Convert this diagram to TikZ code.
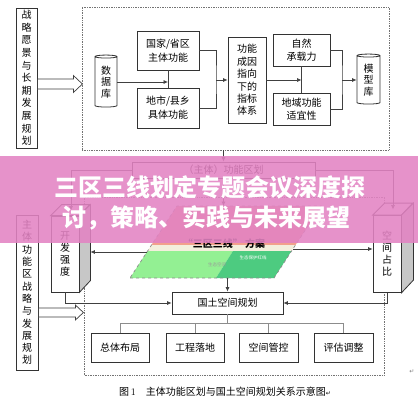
\documentclass[tikz,border=0pt]{standalone}
\usepackage{fontspec}
\usetikzlibrary{shapes.geometric,arrows.meta}
\newfontfamily\cjk{Noto Sans CJK SC}
\newfontfamily\symfont{DejaVu Sans}
\definecolor{banner}{HTML}{E383C3}
\definecolor{salmon}{HTML}{F2A08C}
\definecolor{cream}{HTML}{F3EFDC}
\definecolor{lgreen}{HTML}{93F093}
\definecolor{dgreen}{HTML}{4DCB80}

\begin{document}
\begin{tikzpicture}[x=1pt,y=-1pt,
  box/.style={draw=black!80,fill=white,line width=0.8pt,inner sep=1pt,align=center,font=\cjk\fontsize{10}{13}\selectfont},
  cyl/.style={cylinder,shape border rotate=90,aspect=0.3,draw=black!80,fill=white,line width=0.8pt,inner sep=0pt,align=center,font=\cjk\fontsize{10}{11.5}\selectfont},
  link/.style={draw=black!75,line width=0.7pt},
  arr/.style={link,-{Latex[length=4.5pt,width=4pt]}},
  tree/.style={draw=black!45,line width=0.7pt},
  dotframe/.style={draw=black!55,densely dotted,line width=0.7pt},
  hollow/.style={draw=black!75,fill=white,line width=0.7pt},
  sideface/.style={draw=black!80,fill=black!22,line width=0.8pt},
  topface/.style={draw=black!80,fill=white,line width=0.8pt}]

  \useasboundingbox (0,0) rectangle (418,400);
  \fill[white] (0,0) rectangle (418,400);

  %top block
  \node[dotframe,minimum width=307,minimum height=143] (top) at (235.5,78.5) {};
  \node[box,minimum width=21,minimum height=140,font=\cjk\fontsize{10}{12.6}\selectfont] (yj) at (26.5,78) {战\\略\\愿\\景\\与\\长\\期\\发\\展\\规\\划};
  \draw[hollow] ([yshift=-1pt]yj.east) -- ++(36,0) -- ++(0,-3.5) -- ++(9,8.5) -- ++(-9,8.5) -- ++(0,-3.5) -- ++(-36,0) -- cycle;

  \node[cyl,minimum width=22,minimum height=52] (sjk) at (106,82) {数\\据\\库};
  \node[box,minimum width=62,minimum height=39,font=\cjk\fontsize{10}{14}\selectfont] (gj) at (168,50.5) {国家/省区\\主体功能};
  \node[box,minimum width=62,minimum height=40,font=\cjk\fontsize{10}{14}\selectfont] (ds) at (168,108) {地市/县乡\\具体功能};
  \node[box,minimum width=38,minimum height=86,font=\cjk\fontsize{10}{12.4}\selectfont] (zb) at (247,80) {功能\\成因\\指向\\下的\\指标\\体系};
  \node[box,minimum width=57,minimum height=32] (zr) at (301.5,50) {自然\\承载力};
  \node[box,minimum width=57,minimum height=32] (dy) at (301.5,109) {地域功能\\适宜性};
  \node[cyl,minimum width=23,minimum height=50] (mxk) at (368.5,80) {模\\型\\库};

  \draw[link] (gj.south) -- (ds.north);
  \draw[arr] (sjk.east) -- (sjk.east -| gj.south);
  \coordinate (m1) at (216,80);
  \draw[link] (gj.east) -| (m1) |- (ds.east);
  \draw[arr] (m1) -- (m1 -| zb.west);
  \draw[link] (zr.south) -- (dy.north);
  \draw[arr] (zb.east) -- (zb.east -| zr.south);
  \coordinate (m3) at (342,80);
  \draw[link] (zr.east) -| (m3) |- (dy.east);
  \draw[arr] (m3) -- (m3 -| mxk.west);

  %lower block
  \node[dotframe,minimum width=300,minimum height=178] (low) at (234.5,286) {};
  \node[box,minimum width=183,minimum height=16] (gh) at (223.5,170) {（主体）功能区划};
  \draw[arr] (top.south -| gh.north) -- (gh.north);

  \node[box,minimum width=22,minimum height=155,font=\cjk\fontsize{10}{12.3}\selectfont] (zl) at (27,292.5) {主\\体\\功\\能\\区\\战\\略\\与\\发\\展\\规\\划};
  \draw[hollow] ([yshift=-15.5pt]zl.east) -- ++(37,0) -- ++(0,-3) -- ++(8,7.5) -- ++(-8,7.5) -- ++(0,-3) -- ++(-37,0) -- cycle;

  % 3d boxes
  \node[box,minimum width=28,minimum height=76,font=\cjk\fontsize{10}{12}\selectfont] (kf) at (65,254) {开\\发\\强\\度};
  \draw[topface] (kf.north west) -- ++(11,-11) -- ++(28,0) -- (kf.north east) -- cycle;
  \draw[sideface] (kf.north east) -- ++(11,-11) -- ++(0,76) -- (kf.south east) -- cycle;
  \coordinate (kfs) at ([xshift=11pt]kf.east);
  \coordinate (kft) at (71,210.5);

  \node[box,minimum width=28,minimum height=77,font=\cjk\fontsize{10}{12}\selectfont] (kj) at (387,254) {空\\间\\占\\比};
  \draw[topface] (kj.north west) -- ++(12,-12) -- ++(28,0) -- (kj.north east) -- cycle;
  \draw[sideface] (kj.north east) -- ++(12,-12) -- ++(0,77) -- (kj.south east) -- cycle;
  \coordinate (kjt) at (393,209.5);

  \draw[arr] (gh.west) -| (kft);
  \draw[arr] (gh.east) -| (kjt);

  % parallelogram
  \fill[salmon] (177,206) -- (321,206) -- (295.5,245) -- (151.5,245) -- cycle;
  \fill[cream] (151.5,245) -- (295.5,245) -- (291.5,251) -- (147.5,251) -- cycle;
  \fill[lgreen] (147.5,251) -- (233,251) -- (216,278) -- (130,278) -- cycle;
  \fill[dgreen] (233,251) -- (291.5,251) -- (274,278) -- (216,278) -- cycle;
  \draw[black!45,dashed,line width=0.7pt] (130,278) -- (274,278) -- (321,206) -- (177,206) -- cycle;
  \node[font=\cjk\bfseries\fontsize{10}{12}\selectfont] (sq) at (224,244) {“三区三线”\ 方案};
  \node[font=\cjk\fontsize{4.5}{5}\selectfont,text=black!40] (st) at (217,265) {生态空间};
  \node[font=\cjk\fontsize{4.5}{5}\selectfont,text=white] (hx) at (253,258) {生态保护红线};
  \coordinate (ptop) at (223.5,206);
  \coordinate (pl) at (147,252);
  \coordinate (pr) at (293,249);
  \coordinate (pb) at (227.5,278);
  \draw[arr] (gh.south) -- (ptop);
  \draw[arr] (pl) -- (kfs |- pl);
  \draw[arr] (pr) -- (pr -| kj.west);

  \node[box,minimum width=111,minimum height=22] (gt) at (227.5,303) {国土空间规划};
  \draw[arr] (pb) -- (gt.north);
  \draw[arr] (kf.south) |- (gt.west);
  \draw[arr] (kj.south) |- (gt.east);

  \node[box,minimum width=58,minimum height=29] (zt) at (120,347.5) {总体布局};
  \node[box,minimum width=58,minimum height=29] (gc) at (195,347.5) {工程落地};
  \node[box,minimum width=59,minimum height=29] (gk) at (268.5,347.5) {空间管控};
  \node[box,minimum width=59,minimum height=29] (pg) at (343.5,347.5) {评估调整};
  \coordinate (bus) at (0,323);
  \draw[tree] (gt.south) -- (gt.south |- bus);
  \draw[tree] (zt.north) -- (zt.north |- bus) -- (pg.north |- bus) -- (pg.north);
  \draw[tree] (gc.north) -- (gc.north |- bus);
  \draw[tree] (gk.north) -- (gk.north |- bus);

  %banner
  \fill[banner,opacity=0.88] (0,156) rectangle (418,243);
  \node[font=\cjk\bfseries\fontsize{24}{26}\selectfont,text=white] (t1) at (210,187) {三区三线划定专题会议深度探};
  \node[font=\cjk\bfseries\fontsize{24}{26}\selectfont,text=white] (t2) at (206.5,218) {讨，策略、实践与未来展望};

  %caption
  \node[font=\cjk\fontsize{10}{12}\selectfont] (cap) at (225,392) {图\,{\rmfamily 1}\quad 主体功能区划与国土空间规划关系示意图{\symfont\fontsize{6}{7}\selectfont ↵}};
  \node[font=\symfont\fontsize{6}{7}\selectfont,text=black!50] (rt) at (412,372) {↵};

\end{tikzpicture}
\end{document}
